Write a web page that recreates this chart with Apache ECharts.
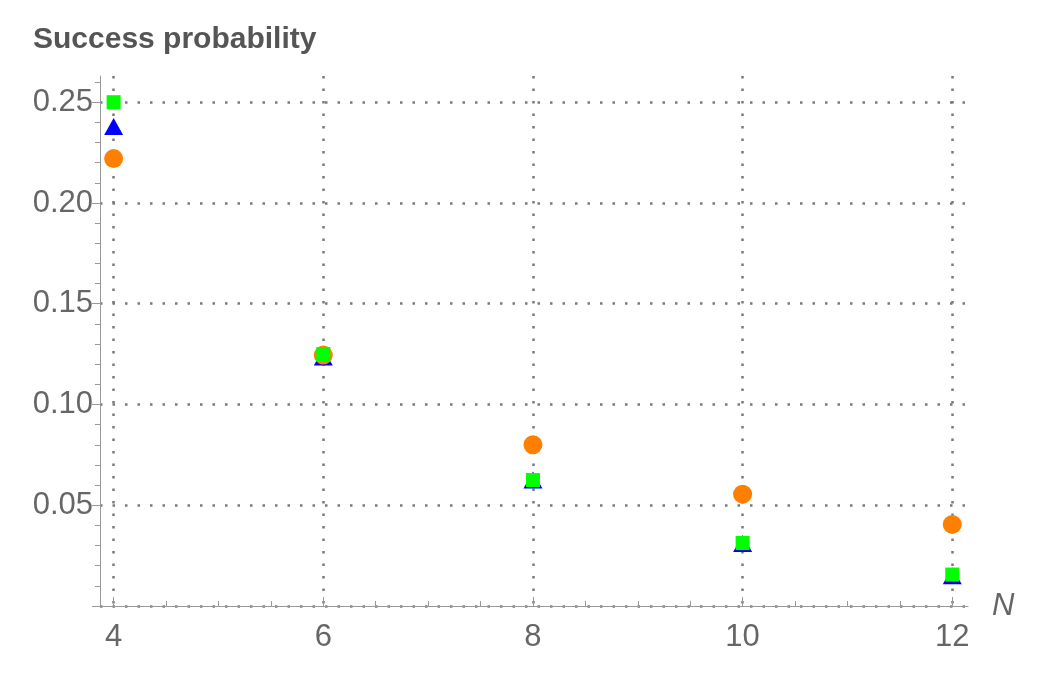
<!DOCTYPE html>
<html>
<head>
<meta charset="utf-8">
<script src="https://cdn.jsdelivr.net/npm/echarts@6/dist/echarts.min.js"></script>
<style>
  html, body { margin: 0; padding: 0; background: #fff; }
  #chart { width: 1043px; height: 676px; }
</style>
</head>
<body>
<div id="chart"></div>
<script>
// --- Data ---
const nValues = [4, 6, 8, 10, 12];
const circleVals = [0.222, 0.1245, 0.080, 0.0555, 0.0405];
const triangleVals = [0.238, 0.1235, 0.0625, 0.031, 0.015];
const squareVals = [0.25, 0.125, 0.0625, 0.03125, 0.0156];

// --- Ticks ---
const xMajorTicks = [4, 6, 8, 10, 12];
const xMinorTicks = [4.5, 5, 5.5, 6.5, 7, 7.5, 8.5, 9, 9.5, 10.5, 11, 11.5];
const yMajorTicks = [0, 0.05, 0.10, 0.15, 0.20, 0.25];
const yLabelTicks = [0.05, 0.10, 0.15, 0.20, 0.25];
const yMinorTicks = [0.01, 0.02, 0.03, 0.04, 0.06, 0.07, 0.08, 0.09, 0.11, 0.12, 0.13, 0.14,
  0.16, 0.17, 0.18, 0.19, 0.21, 0.22, 0.23, 0.24, 0.26];

const pairs = vals => nValues.map((n, i) => [n, vals[i]]);

const axisGray = '#999';
const labelGray = '#666';
const font = 'Liberation Sans';
const dotted = { color: '#7a7a7a', width: 2.5, type: [2.5, 10] };

const chart = echarts.init(document.getElementById('chart'), null, { renderer: 'canvas' });

chart.setOption({
  backgroundColor: '#fff',
  animation: false,
  title: {
    text: 'Success probability',
    left: 28,
    top: 20,
    textStyle: { color: '#555', fontFamily: font, fontSize: 30, fontWeight: 'bold' },
  },
  grid: { left: 100, right: 75, top: 76, bottom: 70 },
  xAxis: [
    {
      type: 'value',
      min: 3.87,
      max: 12.15,
      name: 'N',
      nameLocation: 'end',
      nameGap: 24,
      nameTextStyle: { color: labelGray, fontFamily: font, fontSize: 31, fontStyle: 'italic', verticalAlign: 'middle' },
      axisLine: { show: true, lineStyle: { color: axisGray, width: 1 } },
      axisTick: { show: true, inside: true, length: 9, customValues: xMajorTicks, lineStyle: { color: axisGray } },
      axisLabel: { customValues: xMajorTicks, color: labelGray, fontFamily: font, fontSize: 31, margin: 16 },
      splitLine: { show: true, lineStyle: dotted },
    },
    {
      type: 'value',
      min: 3.87,
      max: 12.15,
      position: 'bottom',
      axisLine: { show: false },
      axisTick: { show: true, inside: true, length: 5, customValues: xMinorTicks, lineStyle: { color: axisGray } },
      axisLabel: { show: false },
      splitLine: { show: false },
    },
  ],
  yAxis: [
    {
      type: 'value',
      min: 0,
      max: 0.263,
      axisLine: { show: true, lineStyle: { color: axisGray, width: 1 } },
      axisTick: { show: true, inside: false, length: 8, customValues: yMajorTicks, lineStyle: { color: axisGray } },
      axisLabel: {
        customValues: yLabelTicks,
        color: labelGray, fontFamily: font, fontSize: 31, margin: 7,
        formatter: v => v.toFixed(2),
      },
      splitLine: { show: true, lineStyle: dotted },
    },
    {
      type: 'value',
      min: 0,
      max: 0.263,
      position: 'left',
      axisLine: { show: false },
      axisTick: { show: true, inside: false, length: 5, customValues: yMinorTicks, lineStyle: { color: axisGray } },
      axisLabel: { show: false },
      splitLine: { show: false },
    },
  ],
  series: [
    {
      name: 'triangle',
      type: 'scatter',
      symbol: 'triangle',
      symbolSize: [19, 17],
      data: pairs(triangleVals),
      itemStyle: { color: '#0000ff', opacity: 1 },
      z: 2,
    },
    {
      name: 'circle',
      type: 'scatter',
      symbol: 'circle',
      symbolSize: 19,
      data: pairs(circleVals),
      itemStyle: { color: '#ff8000', opacity: 1 },
      z: 3,
    },
    {
      name: 'square',
      type: 'scatter',
      symbol: 'rect',
      symbolSize: 14,
      data: pairs(squareVals),
      itemStyle: { color: '#00ff00', opacity: 1 },
      z: 4,
    },
  ],
});
</script>
</body>
</html>
